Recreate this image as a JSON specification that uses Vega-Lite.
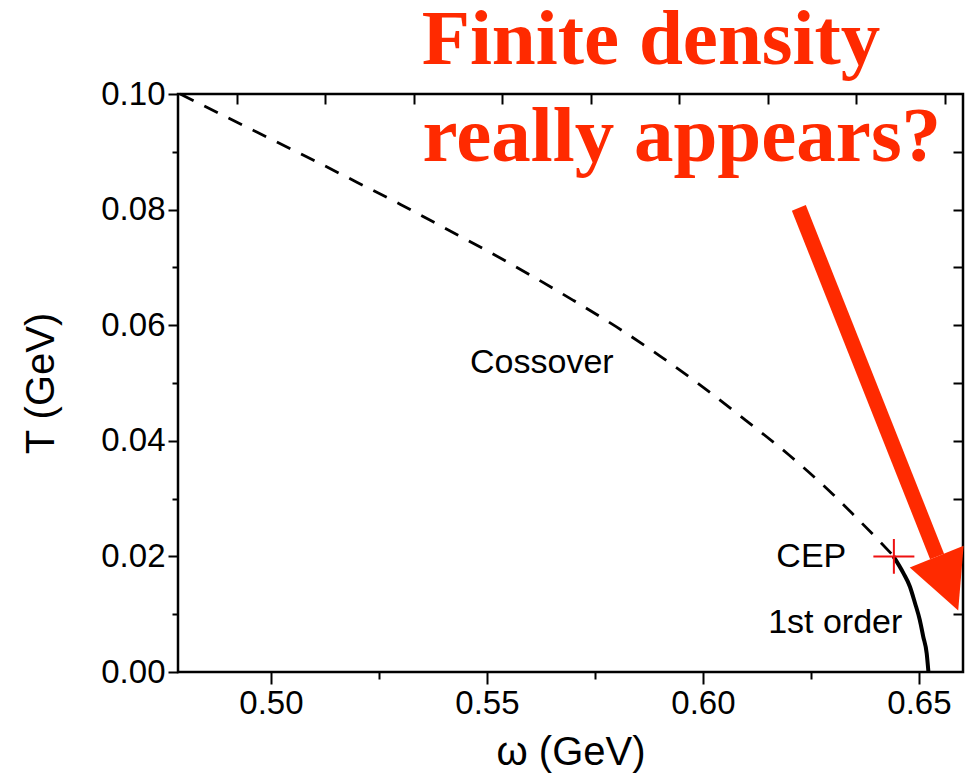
{
  "$schema": "https://vega.github.io/schema/vega-lite/v6.json",
  "width": 785,
  "height": 578,
  "autosize": "none",
  "padding": {"left": 178, "top": 94, "right": 10, "bottom": 110},
  "background": "white",
  "config": {
    "view": {"stroke": "black", "strokeWidth": 2.5},
    "font": "Liberation Sans",
    "axis": {
      "grid": false,
      "domain": false,
      "tickColor": "black",
      "tickWidth": 2,
      "labelColor": "black",
      "labelFont": "Liberation Sans",
      "labelFontSize": 33,
      "labelFlush": false,
      "labelOverlap": false,
      "titleFont": "Liberation Sans",
      "titleFontSize": 40,
      "titleFontWeight": "normal",
      "titleColor": "black"
    }
  },
  "datasets": {
    "crossover": [
      {"omega": 0.479, "T": 0.1000},
      {"omega": 0.490, "T": 0.0959},
      {"omega": 0.500, "T": 0.0922},
      {"omega": 0.510, "T": 0.0885},
      {"omega": 0.520, "T": 0.0847},
      {"omega": 0.530, "T": 0.0809},
      {"omega": 0.540, "T": 0.0769},
      {"omega": 0.550, "T": 0.0729},
      {"omega": 0.560, "T": 0.0687},
      {"omega": 0.570, "T": 0.0643},
      {"omega": 0.580, "T": 0.0597},
      {"omega": 0.590, "T": 0.0547},
      {"omega": 0.600, "T": 0.0493},
      {"omega": 0.610, "T": 0.0435},
      {"omega": 0.620, "T": 0.0375},
      {"omega": 0.630, "T": 0.0308},
      {"omega": 0.635, "T": 0.0271},
      {"omega": 0.640, "T": 0.0233},
      {"omega": 0.6442, "T": 0.0200}
    ],
    "firstOrder": [
      {"omega": 0.6441, "T": 0.0200},
      {"omega": 0.6464, "T": 0.0171},
      {"omega": 0.6479, "T": 0.0148},
      {"omega": 0.6491, "T": 0.0119},
      {"omega": 0.6502, "T": 0.0090},
      {"omega": 0.6510, "T": 0.0061},
      {"omega": 0.6518, "T": 0.0032},
      {"omega": 0.6522, "T": 0.0000}
    ],
    "cep": [{"omega": 0.6442, "T": 0.0200}],
    "labels": [
      {"omega": 0.5461, "T": 0.0517, "label": "Cossover"},
      {"omega": 0.6170, "T": 0.0181, "label": "CEP"},
      {"omega": 0.6151, "T": 0.0068, "label": "1st order"}
    ],
    "heading": [
      {"omega": 0.5349, "T": 0.1052, "label": "Finite density"},
      {"omega": 0.5351, "T": 0.0884, "label": "really appears?"}
    ],
    "arrowShaft": [
      {"omega": 0.6222, "T": 0.0803},
      {"omega": 0.6542, "T": 0.0200}
    ],
    "arrowHead": [{"omega": 0.6566, "T": 0.0153}]
  },
  "layer": [
    {
      "data": {"name": "crossover"},
      "mark": {"type": "line", "color": "black", "strokeWidth": 2.8, "strokeDash": [15, 12], "interpolate": "monotone"},
      "encoding": {
        "x": {
          "field": "omega", "type": "quantitative",
          "scale": {"domain": [0.4785, 0.6602], "nice": false, "zero": false},
          "axis": {
            "orient": "bottom",
            "values": [0.5, 0.55, 0.6, 0.65],
            "format": ".2f",
            "tickSize": 12,
            "labelPadding": 3,
            "title": "ω (GeV)",
            "titlePadding": 12
          }
        },
        "y": {
          "field": "T", "type": "quantitative",
          "scale": {"domain": [0, 0.1], "nice": false, "zero": false},
          "axis": {
            "orient": "left",
            "values": [0, 0.02, 0.04, 0.06, 0.08, 0.1],
            "format": ".2f",
            "tickSize": 10,
            "labelPadding": 3,
            "title": "T (GeV)",
            "titlePadding": 39
          }
        }
      }
    },
    {
      "data": {"name": "firstOrder"},
      "mark": {"type": "line", "color": "black", "strokeWidth": 4, "interpolate": "monotone"},
      "encoding": {
        "x": {
          "field": "omega", "type": "quantitative",
          "scale": {"domain": [0.4785, 0.6602], "nice": false, "zero": false},
          "axis": {"orient": "bottom", "values": [0.525, 0.575, 0.625], "tickSize": 7, "labels": false, "title": null}
        },
        "y": {
          "field": "T", "type": "quantitative",
          "scale": {"domain": [0, 0.1], "nice": false, "zero": false},
          "axis": {"orient": "left", "values": [0.01, 0.03, 0.05, 0.07, 0.09], "tickSize": 6, "labels": false, "title": null}
        }
      }
    },
    {
      "data": {"name": "arrowShaft"},
      "mark": {"type": "line", "color": "#FF2A00", "strokeWidth": 15, "strokeCap": "butt"},
      "encoding": {
        "x": {"field": "omega", "type": "quantitative", "scale": {"domain": [0.4785, 0.6602], "nice": false, "zero": false}, "axis": null},
        "y": {"field": "T", "type": "quantitative", "scale": {"domain": [0, 0.1], "nice": false, "zero": false}, "axis": null}
      }
    },
    {
      "data": {"name": "arrowHead"},
      "mark": {"type": "point", "shape": "M-1,-1L1,-1L0,1Z", "size": 3364, "angle": 338.2, "filled": true, "fill": "#FF2A00", "opacity": 1, "strokeWidth": 0},
      "encoding": {
        "x": {"field": "omega", "type": "quantitative", "scale": {"domain": [0.4785, 0.6602], "nice": false, "zero": false}, "axis": null},
        "y": {"field": "T", "type": "quantitative", "scale": {"domain": [0, 0.1], "nice": false, "zero": false}, "axis": null}
      }
    },
    {
      "data": {"name": "cep"},
      "mark": {"type": "point", "shape": "M-1,0L1,0M0,-0.85L0,0.85", "size": 1681, "filled": false, "stroke": "#EE1111", "strokeWidth": 2, "opacity": 1},
      "encoding": {
        "x": {
          "field": "omega", "type": "quantitative",
          "scale": {"domain": [0.4785, 0.6602], "nice": false, "zero": false},
          "axis": {
            "orient": "bottom",
            "offset": -578,
            "values": [0.4921, 0.5126, 0.5332, 0.5535, 0.5741, 0.5945, 0.615, 0.6354, 0.656],
            "tickSize": 10,
            "labels": false,
            "title": null
          }
        },
        "y": {
          "field": "T", "type": "quantitative",
          "scale": {"domain": [0, 0.1], "nice": false, "zero": false},
          "axis": {
            "orient": "left",
            "offset": -785,
            "values": [0.01, 0.02, 0.03, 0.04, 0.05, 0.06, 0.07, 0.08, 0.09],
            "tickSize": 10,
            "labels": false,
            "title": null
          }
        }
      }
    },
    {
      "data": {"name": "labels"},
      "mark": {"type": "text", "align": "left", "baseline": "alphabetic", "font": "Liberation Sans", "fontSize": 34, "color": "black"},
      "encoding": {
        "x": {"field": "omega", "type": "quantitative", "scale": {"domain": [0.4785, 0.6602], "nice": false, "zero": false}, "axis": null},
        "y": {"field": "T", "type": "quantitative", "scale": {"domain": [0, 0.1], "nice": false, "zero": false}, "axis": null},
        "text": {"field": "label"}
      }
    },
    {
      "data": {"name": "heading"},
      "mark": {"type": "text", "align": "left", "baseline": "alphabetic", "font": "Liberation Serif", "fontWeight": "bold", "fontSize": 79, "color": "#FF2A00"},
      "encoding": {
        "x": {"field": "omega", "type": "quantitative", "scale": {"domain": [0.4785, 0.6602], "nice": false, "zero": false}, "axis": null},
        "y": {"field": "T", "type": "quantitative", "scale": {"domain": [0, 0.1], "nice": false, "zero": false}, "axis": null},
        "text": {"field": "label"}
      }
    }
  ],
  "resolve": {"axis": {"x": "independent", "y": "independent"}}
}
